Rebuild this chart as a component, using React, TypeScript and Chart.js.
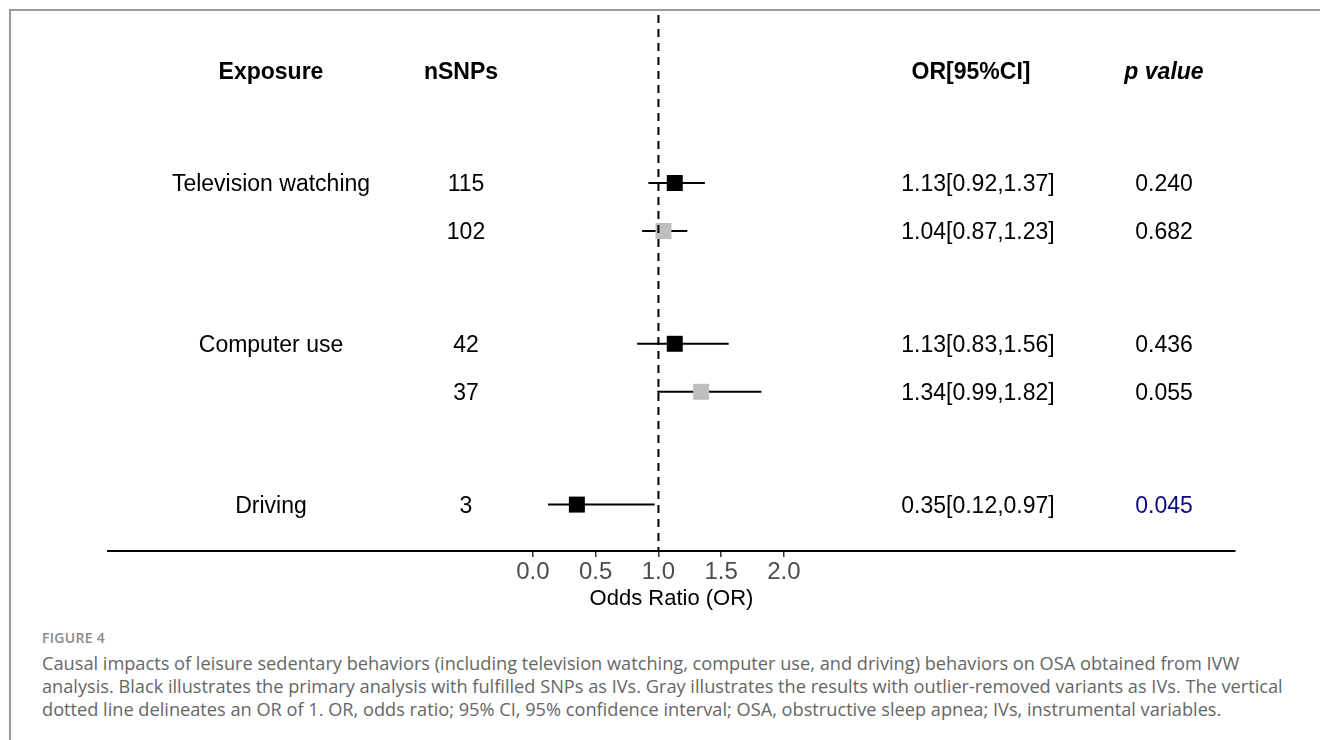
import React, { useEffect, useRef } from "react";
import { Chart, registerables } from "chart.js";

Chart.register(...registerables);

// ---- data ----
const exposures = ["Television watching", "", "Computer use", "", "Driving"];
const nSnps = ["115", "102", "42", "37", "3"];
const orValues = [1.13, 1.04, 1.13, 1.34, 0.35];
const ciLower = [0.92, 0.87, 0.83, 0.99, 0.12];
const ciUpper = [1.37, 1.23, 1.56, 1.82, 0.97];
const pValues = ["0.240", "0.682", "0.436", "0.055", "0.045"];
const analysisType = ["primary", "outlier", "primary", "outlier", "primary"];
const rowPositions = [1, 2, 4.35, 5.35, 7.7];
const headerLabels = ["Exposure", "nSNPs", "OR[95%CI]", "p value"];
const xTickValues = [0, 0.5, 1, 1.5, 2];
const referenceOR = 1;

// ---- layout / styles ----
const HEADER_POS = -1.35;
const Y_MIN = -2.5;
const Y_MAX = 8.667;
const X_MIN = -3.386;
const X_MAX = 5.594;
const FONT = '"Liberation Sans", Arial, Helvetica, sans-serif';
const COL_X = [271, 466, 978, 1164];
const HEADER_X = [271, 461, 971, 1164];
const TEXT_DY = 2;
const TYPE_COLOR: Record<string, string> = { primary: "#000000", outlier: "#bebebe" };
const SIG_COLOR = "#0b0b80";

const tablePlugin = {
  id: "forestTable",
  afterDraw(chart: any) {
    const ctx = chart.ctx;
    const y = chart.scales.y;
    ctx.save();
    ctx.textAlign = "center";
    ctx.textBaseline = "middle";
    ctx.fillStyle = "#000";
    const hy = y.getPixelForValue(HEADER_POS) + TEXT_DY;
    headerLabels.forEach((h, i) => {
      ctx.font = (i === 3 ? "italic bold 23px " : "bold 23px ") + FONT;
      ctx.fillText(h, HEADER_X[i], hy);
    });
    ctx.font = "23px " + FONT;
    rowPositions.forEach((pos, i) => {
      const py = y.getPixelForValue(pos) + TEXT_DY;
      ctx.fillStyle = "#000";
      if (exposures[i]) ctx.fillText(exposures[i], COL_X[0], py);
      ctx.fillText(nSnps[i], COL_X[1], py);
      ctx.fillText(
        `${orValues[i].toFixed(2)}[${ciLower[i].toFixed(2)},${ciUpper[i].toFixed(2)}]`,
        COL_X[2],
        py
      );
      ctx.fillStyle = parseFloat(pValues[i]) < 0.05 ? SIG_COLOR : "#000";
      ctx.fillText(pValues[i], COL_X[3], py);
    });
    ctx.restore();
  },
};

function ForestChart() {
  const ref = useRef<HTMLCanvasElement | null>(null);
  useEffect(() => {
    if (!ref.current) return;
    const ciSets = rowPositions.map((pos, i) => ({
      label: "ci" + i,
      data: [
        { x: ciLower[i], y: pos },
        { x: ciUpper[i], y: pos },
      ],
      showLine: true,
      borderColor: "#000",
      borderWidth: 2,
      pointRadius: 0,
      order: 2,
    }));
    const chart = new Chart(ref.current, {
      type: "scatter",
      data: {
        datasets: [
          {
            label: "ref",
            data: [
              { x: referenceOR, y: Y_MIN },
              { x: referenceOR, y: Y_MAX },
            ],
            showLine: true,
            borderColor: "#000",
            borderWidth: 2,
            borderDash: [8, 6],
            pointRadius: 0,
            order: 0,
          },
          {
            label: "or",
            data: rowPositions.map((pos, i) => ({ x: orValues[i], y: pos })),
            pointStyle: "rect",
            pointRadius: 11.3,
            pointHoverRadius: 11.3,
            backgroundColor: analysisType.map((t) => TYPE_COLOR[t]),
            borderWidth: 0,
            order: 1,
          },
          ...ciSets,
        ],
      } as any,
      options: {
        animation: false,
        responsive: false,
        maintainAspectRatio: false,
        layout: { padding: { left: 108, right: 85, top: 15, bottom: 12 } },
        plugins: { legend: { display: false }, tooltip: { enabled: false } },
        scales: {
          x: {
            type: "linear",
            min: X_MIN,
            max: X_MAX,
            afterBuildTicks: (s: any) => {
              s.ticks = xTickValues.map((v) => ({ value: v }));
            },
            ticks: {
              callback: (v: any) => Number(v).toFixed(1),
              font: { family: FONT, size: 24, lineHeight: 1 },
              color: "#4d4d4d",
              padding: 3,
              maxRotation: 0,
              autoSkip: false,
            },
            grid: {
              drawOnChartArea: false,
              drawTicks: true,
              tickLength: 6,
              color: "#333",
              lineWidth: 1.5,
            },
            border: { display: true, color: "#000", width: 2 },
            title: {
              display: true,
              text: "Odds Ratio (OR)",
              font: { family: FONT, size: 22, lineHeight: 1 },
              color: "#000",
              padding: { top: 1, bottom: 0 },
            },
          },
          y: {
            type: "linear",
            reverse: true,
            min: Y_MIN,
            max: Y_MAX,
            display: false,
          },
        },
      } as any,
      plugins: [tablePlugin],
    });
    return () => chart.destroy();
  }, []);
  return (
    <canvas ref={ref} width={1320} height={622} style={{ width: 1320, height: 622, display: "block" }} />
  );
}

const captionLines = [
  "Causal impacts of leisure sedentary behaviors (including television watching, computer use, and driving) behaviors on OSA obtained from IVW",
  "analysis. Black illustrates the primary analysis with fulfilled SNPs as IVs. Gray illustrates the results with outlier-removed variants as IVs. The vertical",
  "dotted line delineates an OR of 1. OR, odds ratio; 95% CI, 95% confidence interval; OSA, obstructive sleep apnea; IVs, instrumental variables.",
];

export default function App() {
  return (
    <div style={{ position: "absolute", left: 0, top: 0, width: 1320, height: 740, background: "#fff", overflow: "hidden" }}>
      <div
        style={{
          position: "absolute",
          left: 9,
          top: 9,
          width: 1400,
          height: 800,
          borderTop: "2px solid #9a9a9a",
          borderLeft: "2px solid #9a9a9a",
        }}
      />
      <div style={{ position: "absolute", left: 0, top: 0 }}>
        <ForestChart />
      </div>
      <div
        style={{
          position: "absolute",
          left: 42,
          top: 628,
          fontFamily: '"Open Sans", sans-serif',
          fontSize: 14,
          fontWeight: 600,
          color: "#8a8a8a",
          letterSpacing: 0.3,
          lineHeight: "20px",
        }}
      >
        FIGURE 4
      </div>
      <div
        style={{
          position: "absolute",
          left: 42,
          top: 652,
          fontFamily: '"Open Sans", sans-serif',
          fontSize: 18.2,
          color: "#666",
          lineHeight: "23px",
          whiteSpace: "nowrap",
        }}
      >
        {captionLines.map((l, i) => (
          <div key={i}>{l}</div>
        ))}
      </div>
    </div>
  );
}
